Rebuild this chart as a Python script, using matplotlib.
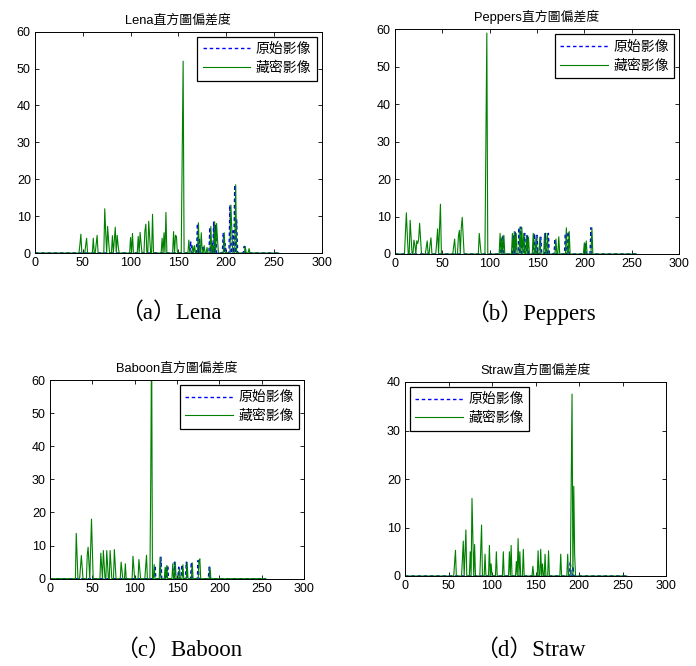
import numpy as np
import matplotlib
matplotlib.use("Agg")
import matplotlib.pyplot as plt

plt.rcParams['font.family'] = ['Liberation Sans', 'Noto Sans CJK TC', 'DejaVu Sans']

# ---------------- data (bin index : histogram difference) ----------------
lena_stego_bins = [47, 48, 53, 54, 61, 64, 65, 73, 74, 76, 77, 81, 83, 84, 86, 87, 100, 102, 108, 110,
                   111, 115, 116, 119, 120, 123, 133, 135, 137, 145, 147, 148, 154, 155, 161, 165, 167,
                   171, 174, 177, 180, 184, 186, 188, 190, 191, 198, 205, 206, 210, 220, 224]
lena_stego_vals = [2.3, 5.1, 2, 4, 4, 2.3, 4.8, 12, 5.5, 7.2, 3.3, 4.7, 3.5, 7, 4.8, 2, 4.2, 5.3, 4.5, 5.6,
                   2.5, 6, 7.8, 8.6, 4.3, 10.5, 4, 5.5, 11, 5.8, 4.8, 4.5, 26, 52, 3.5, 2, 2,
                   8.2, 5.5, 2, 1.5, 7.2, 2, 8.5, 8, 3.5, 5.5, 13, 6, 18.5, 1.8, 1.2]
lena_cover_bins = [163, 170, 172, 176, 183, 185, 187, 189, 197, 199, 204, 207, 209, 211, 219]
lena_cover_vals = [3, 8, 4, 2, 7, 3, 8.5, 7.5, 5.5, 2.5, 13, 6, 18.5, 9, 1.8]

peppers_stego_bins = [11, 12, 13, 16, 17, 20, 21, 23, 24, 25, 26, 27, 33, 34, 37, 38, 44, 45, 47, 48,
                      62, 63, 67, 68, 70, 71, 72, 89, 90, 96, 97, 111, 113, 115, 124, 126, 128, 132,
                      134, 136, 139, 141, 146, 149, 153, 158, 161, 170, 173, 181, 184, 200, 202, 208]
peppers_stego_vals = [5.5, 11, 5, 9, 4.5, 3.7, 2.5, 3.5, 2.8, 4, 8.2, 4, 1.8, 3.5, 2.5, 4.3, 3, 6.7, 6.7, 13.3,
                      2, 4, 4.8, 6.3, 7, 9.8, 4.6, 5.5, 2.5, 29, 59, 5.5, 4.5, 5, 5.5, 6, 5.5, 7.2,
                      7, 5.5, 5, 4.5, 5.5, 5, 4.5, 5.5, 5.5, 4, 4.6, 7, 6, 3, 3.5, 7]
peppers_cover_bins = [112, 114, 125, 127, 131, 133, 137, 140, 147, 150, 154, 159, 162, 169, 180, 183, 201, 207]
peppers_cover_vals = [4, 5, 5, 6, 7, 7.2, 5.5, 5, 5.5, 5, 4.5, 5.5, 5.5, 4, 5.5, 6, 3, 7]

baboon_stego_bins = [31, 32, 36, 37, 38, 44, 45, 46, 48, 49, 50, 60, 61, 63, 64, 67, 68, 71, 72, 76, 77,
                     84, 85, 89, 98, 99, 105, 106, 113, 114, 119, 120, 123, 130, 136, 138, 145, 148,
                     153, 157, 162, 168, 176, 177, 189]
baboon_stego_vals = [13.7, 6.8, 3.4, 7, 3.4, 7.2, 9.5, 4.5, 9, 18, 8.8, 7.7, 4, 8.5, 4.3, 8.5, 4.3, 8.5, 4.2, 8.8, 4.4,
                     5, 2.5, 4.5, 6.8, 3.4, 5.8, 3, 3.4, 7.1, 30, 75, 4.3, 6.5, 3.5, 4, 4.5, 5,
                     3.2, 4.2, 5, 4.8, 5.5, 6, 3.5]
baboon_cover_bins = [124, 131, 137, 139, 147, 152, 156, 161, 167, 175, 188]
baboon_cover_vals = [4, 6.5, 3.5, 4, 5, 3.5, 4.2, 5, 5, 5.5, 3.5]

straw_stego_bins = [57, 58, 66, 67, 69, 70, 75, 77, 78, 80, 87, 88, 92, 97, 99, 105, 113, 120, 122, 128,
                    130, 132, 136, 147, 153, 156, 158, 161, 165, 179, 187, 191, 192, 194, 195]
straw_stego_vals = [2.5, 5.3, 3.5, 7.2, 4.7, 9.5, 5, 16, 8, 6.5, 5.2, 10.5, 4.5, 6.3, 2.5, 5, 5, 5, 6.3, 3,
                    7.7, 5, 5.5, 2, 5.2, 5.5, 2.5, 4.5, 5.2, 4.5, 4.5, 19, 37.5, 18.5, 4.5]
straw_cover_bins = [190, 193]
straw_cover_vals = [3, 2]

titles = ['Lena直方圖偏差度', 'Peppers直方圖偏差度', 'Baboon直方圖偏差度', 'Straw直方圖偏差度']
captions = ['（a）Lena', '（b）Peppers', '（c）Baboon', '（d）Straw']
legend_labels = ['原始影像', '藏密影像']
x_ticks = [0, 50, 100, 150, 200, 250, 300]

panels = [
    dict(cb=lena_cover_bins, cv=lena_cover_vals, sb=lena_stego_bins, sv=lena_stego_vals,
         rect=[35/696, 1-253/666, 286.7/696, 221.3/666], ymax=60, yticks=[0, 10, 20, 30, 40, 50, 60],
         loc='upper right', cap=(171, 313)),
    dict(cb=peppers_cover_bins, cv=peppers_cover_vals, sb=peppers_stego_bins, sv=peppers_stego_vals,
         rect=[395/696, 1-254/666, 284/696, 224.7/666], ymax=60, yticks=[0, 10, 20, 30, 40, 50, 60],
         loc='upper right', cap=(531, 313)),
    dict(cb=baboon_cover_bins, cv=baboon_cover_vals, sb=baboon_stego_bins, sv=baboon_stego_vals,
         rect=[50/696, 1-578.7/666, 254/696, 198.7/666], ymax=60, yticks=[0, 10, 20, 30, 40, 50, 60],
         loc='upper right', cap=(179, 650)),
    dict(cb=straw_cover_bins, cv=straw_cover_vals, sb=straw_stego_bins, sv=straw_stego_vals,
         rect=[405/696, 1-576/666, 261/696, 194/666], ymax=40, yticks=[0, 10, 20, 30, 40],
         loc='upper left', cap=(530, 650)),
]

fig = plt.figure(figsize=(6.96, 6.66), dpi=100)
x = np.arange(256)
for i, p in enumerate(panels):
    ax = fig.add_axes(p['rect'])
    cover = np.zeros(256)
    cover[p['cb']] = p['cv']
    stego = np.zeros(256)
    stego[p['sb']] = p['sv']
    ax.plot(x, cover, color='#0000ff', ls=(0, (2.5, 2)), lw=1.0, label=legend_labels[0])
    ax.plot(x, stego, color='#008000', ls='-', lw=0.8, label=legend_labels[1])
    ax.set_xlim(0, 300)
    ax.set_ylim(0, p['ymax'])
    ax.set_xticks(x_ticks)
    ax.set_yticks(p['yticks'])
    ax.tick_params(direction='in', length=3, width=0.6, top=True, right=True, labelsize=9, pad=3)
    for s in ax.spines.values():
        s.set_linewidth(0.7)
    ax.set_title(titles[i], fontsize=9.3, pad=6)
    leg = ax.legend(loc=p['loc'], fontsize=10, handlelength=3.4, fancybox=False, framealpha=1,
                    edgecolor='black', borderaxespad=0.35, labelspacing=0.35, handletextpad=0.4,
                    borderpad=0.4)
    leg.get_frame().set_linewidth(0.9)
    fig.text(p['cap'][0]/696, 1-p['cap'][1]/666, captions[i], ha='center', va='center',
             fontsize=16.5, family=['Liberation Serif', 'Noto Sans CJK TC'])

fig.savefig('out.png', dpi=100)
